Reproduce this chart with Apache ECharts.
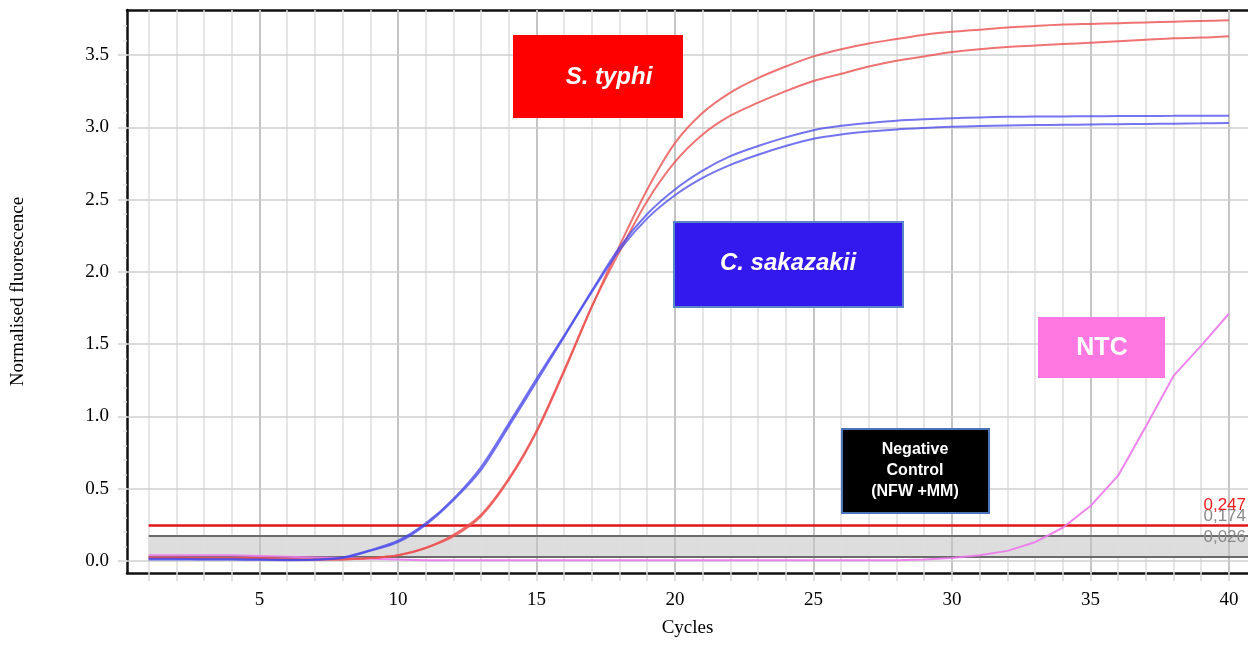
<!DOCTYPE html>
<html>
<head>
<meta charset="utf-8">
<script src="https://cdn.jsdelivr.net/npm/echarts@6/dist/echarts.min.js"></script>
<style>
  html, body { margin: 0; padding: 0; background: #fff; }
  #grafico { width: 1248px; height: 645px; }
</style>
</head>
<body>
<div id="grafico"></div>
<script>
// Datos
const ciclos = Array.from({ length: 40 }, (_, i) => i + 1);

const typhiA = [0.02, 0.02, 0.02, 0.02, 0.015, 0.01, 0.01, 0.01, 0.02, 0.04,
  0.09, 0.17, 0.31, 0.56, 0.89, 1.31, 1.76, 2.18, 2.57, 2.89,
  3.10, 3.24, 3.34, 3.42, 3.49, 3.54, 3.58, 3.61, 3.64, 3.66,
  3.675, 3.69, 3.70, 3.71, 3.715, 3.72, 3.725, 3.73, 3.735, 3.74];
const typhiB = [0.025, 0.025, 0.02, 0.02, 0.02, 0.015, 0.01, 0.01, 0.02, 0.04,
  0.09, 0.18, 0.32, 0.57, 0.90, 1.32, 1.76, 2.14, 2.49, 2.76,
  2.95, 3.08, 3.17, 3.25, 3.32, 3.37, 3.42, 3.46, 3.49, 3.52,
  3.54, 3.555, 3.565, 3.575, 3.585, 3.595, 3.605, 3.615, 3.62, 3.63];
const sakA = [0.015, 0.015, 0.012, 0.012, 0.01, 0.008, 0.01, 0.025, 0.075, 0.14,
  0.26, 0.43, 0.65, 0.95, 1.26, 1.56, 1.87, 2.17, 2.40, 2.57,
  2.70, 2.80, 2.87, 2.93, 2.98, 3.01, 3.03, 3.045, 3.055, 3.063,
  3.068, 3.072, 3.074, 3.075, 3.076, 3.077, 3.078, 3.079, 3.08, 3.08];
const sakB = [0.01, 0.01, 0.01, 0.01, 0.008, 0.006, 0.008, 0.02, 0.07, 0.13,
  0.25, 0.42, 0.63, 0.93, 1.24, 1.55, 1.86, 2.15, 2.37, 2.53,
  2.65, 2.74, 2.81, 2.87, 2.92, 2.95, 2.97, 2.985, 2.995, 3.003,
  3.008, 3.012, 3.015, 3.017, 3.019, 3.021, 3.023, 3.025, 3.027, 3.03];
const ntc = [0.04, 0.04, 0.04, 0.04, 0.035, 0.03, 0.025, 0.02, 0.015, 0.01,
  0.005, 0.005, 0.005, 0.005, 0.005, 0.005, 0.005, 0.005, 0.005, 0.005,
  0.005, 0.005, 0.005, 0.005, 0.005, 0.005, 0.005, 0.005, 0.01, 0.02,
  0.04, 0.07, 0.13, 0.23, 0.38, 0.59, 0.93, 1.28, 1.49, 1.71];

// umbrales
const umbralRojo = 0.247;
const umbralAlto = 0.174;
const umbralBajo = 0.026;

// ejes
const xMin = 0.217, xMax = 40.69;
const yMin = -0.083, yMax = 3.811;
const xEtiquetas = [5, 10, 15, 20, 25, 30, 35, 40];
const yEtiquetas = [0, 0.5, 1.0, 1.5, 2.0, 2.5, 3.0, 3.5];
const yMenores = Array.from({ length: 38 }, (_, i) => +(i * 0.1).toFixed(1));

const serif = 'Liberation Serif';
const sans = 'Liberation Sans';

function pares(valores) {
  return valores.map((v, i) => [ciclos[i], v]);
}

function curva(nombre, valores, color, suave) {
  return {
    name: nombre,
    type: 'line',
    data: pares(valores),
    showSymbol: false,
    smooth: suave,
    z: 5,
    lineStyle: { color: color, width: 2 },
    animation: false
  };
}

// lineas de la grilla
const lineasVerticales = ciclos.map(c => ({
  xAxis: c,
  lineStyle: { color: c % 5 === 0 ? '#c4c4c4' : '#dedede', width: c % 5 === 0 ? 2 : 1.5, type: 'solid' }
}));
const lineasHorizontales = yEtiquetas.map(v => ({
  yAxis: v,
  lineStyle: { color: '#cfcfcf', width: 1.5, type: 'solid' }
}));

function etiquetaUmbral(texto, color) {
  return {
    show: true,
    position: 'insideEndTop',
    distance: [2, 11],
    formatter: texto,
    color: color,
    fontFamily: sans,
    fontSize: 17
  };
}

const chartDom = document.getElementById('grafico');
const myChart = echarts.init(chartDom, null, { renderer: 'canvas' });

const option = {
  backgroundColor: '#fff',
  animation: false,
  grid: { left: 127, right: 0, top: 10, bottom: 72 },
  xAxis: [{
    type: 'value',
    min: xMin, max: xMax,
    name: 'Cycles',
    nameLocation: 'middle',
    nameGap: 46,
    nameTextStyle: { fontFamily: serif, fontSize: 19, color: '#000' },
    axisLine: { show: true, onZero: false, lineStyle: { color: '#111', width: 2.5 } },
    axisTick: { show: true, customValues: ciclos, length: 8, lineStyle: { color: '#d8d8d8', width: 1.5 } },
    axisLabel: {
      customValues: xEtiquetas, margin: 18,
      fontFamily: serif, fontSize: 19, color: '#000'
    },
    splitLine: { show: false }
  }, {
    type: 'value',
    position: 'top',
    min: xMin, max: xMax,
    axisLine: { show: true, onZero: false, lineStyle: { color: '#111', width: 2.5 } },
    axisTick: { show: false },
    axisLabel: { show: false },
    splitLine: { show: false }
  }],
  yAxis: [{
    type: 'value',
    min: yMin, max: yMax,
    name: 'Normalised fluorescence',
    nameLocation: 'middle',
    nameGap: 99,
    nameTextStyle: { fontFamily: serif, fontSize: 19, color: '#000' },
    axisLine: { show: true, onZero: false, lineStyle: { color: '#111', width: 2.5 } },
    axisTick: { show: true, customValues: yEtiquetas, length: 9, lineStyle: { color: '#cfcfcf', width: 1.5 } },
    axisLabel: {
      customValues: yEtiquetas, margin: 18,
      fontFamily: serif, fontSize: 19, color: '#000',
      formatter: v => v.toFixed(1)
    },
    splitLine: { show: false }
  }, {
    type: 'value',
    min: yMin, max: yMax,
    position: 'left',
    axisLine: { show: false, onZero: false },
    axisTick: { show: true, customValues: yMenores, length: 4, lineStyle: { color: '#e2e2e2', width: 1.5 } },
    axisLabel: { show: false },
    splitLine: { show: false }
  }],
  series: [
    {
      name: 'grilla',
      type: 'line',
      data: [],
      silent: true,
      z: 0,
      markLine: {
        silent: true,
        symbol: 'none',
        animation: false,
        label: { show: false },
        emphasis: { disabled: true },
        data: lineasVerticales.concat(lineasHorizontales)
      }
    },
    {
      name: 'umbrales',
      type: 'line',
      data: [],
      silent: true,
      z: 3,
      markArea: {
        silent: true,
        itemStyle: { color: '#dddddd' },
        data: [[{ coord: [1, umbralBajo] }, { coord: [xMax, umbralAlto] }]]
      },
      markLine: {
        silent: true,
        symbol: 'none',
        animation: false,
        emphasis: { disabled: true },
        data: [
          [{ coord: [1, umbralBajo], lineStyle: { color: '#6b6b6b', width: 2, type: 'solid' }, label: etiquetaUmbral('0,026', '#8a8a8a') },
           { coord: [xMax, umbralBajo] }],
          [{ coord: [1, umbralAlto], lineStyle: { color: '#6b6b6b', width: 2, type: 'solid' }, label: etiquetaUmbral('0,174', '#8a8a8a') },
           { coord: [xMax, umbralAlto] }],
          [{ coord: [1, umbralRojo], lineStyle: { color: '#e01515', width: 2.5, type: 'solid' }, label: etiquetaUmbral('0,247', '#ee1c1c') },
           { coord: [xMax, umbralRojo] }]
        ]
      }
    },
    curva('NTC', ntc, 'rgba(236,120,236,0.9)', false),
    curva('S. typhi 1', typhiA, 'rgba(236,80,80,0.8)', 0.3),
    curva('S. typhi 2', typhiB, 'rgba(236,80,80,0.8)', 0.3),
    curva('C. sakazakii 1', sakA, 'rgba(70,70,235,0.75)', 0.3),
    curva('C. sakazakii 2', sakB, 'rgba(70,70,235,0.75)', 0.3)
  ],
  graphic: [
    {
      type: 'rect', shape: { x: 513, y: 35, width: 170, height: 83 },
      style: { fill: '#ff0000' }, z: 10
    },
    {
      type: 'text', x: 609, y: 77, z: 11,
      style: { text: 'S. typhi', fill: '#fff', font: 'italic bold 24px "Liberation Sans"', align: 'center', verticalAlign: 'middle' }
    },
    {
      type: 'rect', shape: { x: 674, y: 222, width: 229, height: 85 },
      style: { fill: '#3419ee', stroke: '#5a86c8', lineWidth: 2 }, z: 10
    },
    {
      type: 'text', x: 788, y: 263, z: 11,
      style: { text: 'C. sakazakii', fill: '#fff', font: 'italic bold 24px "Liberation Sans"', align: 'center', verticalAlign: 'middle' }
    },
    {
      type: 'rect', shape: { x: 1038, y: 317, width: 127, height: 61 },
      style: { fill: '#ff78e2' }, z: 10
    },
    {
      type: 'text', x: 1102, y: 348, z: 11,
      style: { text: 'NTC', fill: '#fff', font: 'bold 25px "Liberation Sans"', align: 'center', verticalAlign: 'middle' }
    },
    {
      type: 'rect', shape: { x: 842, y: 429, width: 147, height: 84 },
      style: { fill: '#000', stroke: '#4a72b8', lineWidth: 2 }, z: 10
    },
    {
      type: 'text', x: 915, y: 471, z: 11,
      style: { text: 'Negative\nControl\n(NFW +MM)', fill: '#fff', font: 'bold 16px "Liberation Sans"', lineHeight: 21, align: 'center', verticalAlign: 'middle' }
    }
  ]
};

myChart.setOption(option);
</script>
</body>
</html>
